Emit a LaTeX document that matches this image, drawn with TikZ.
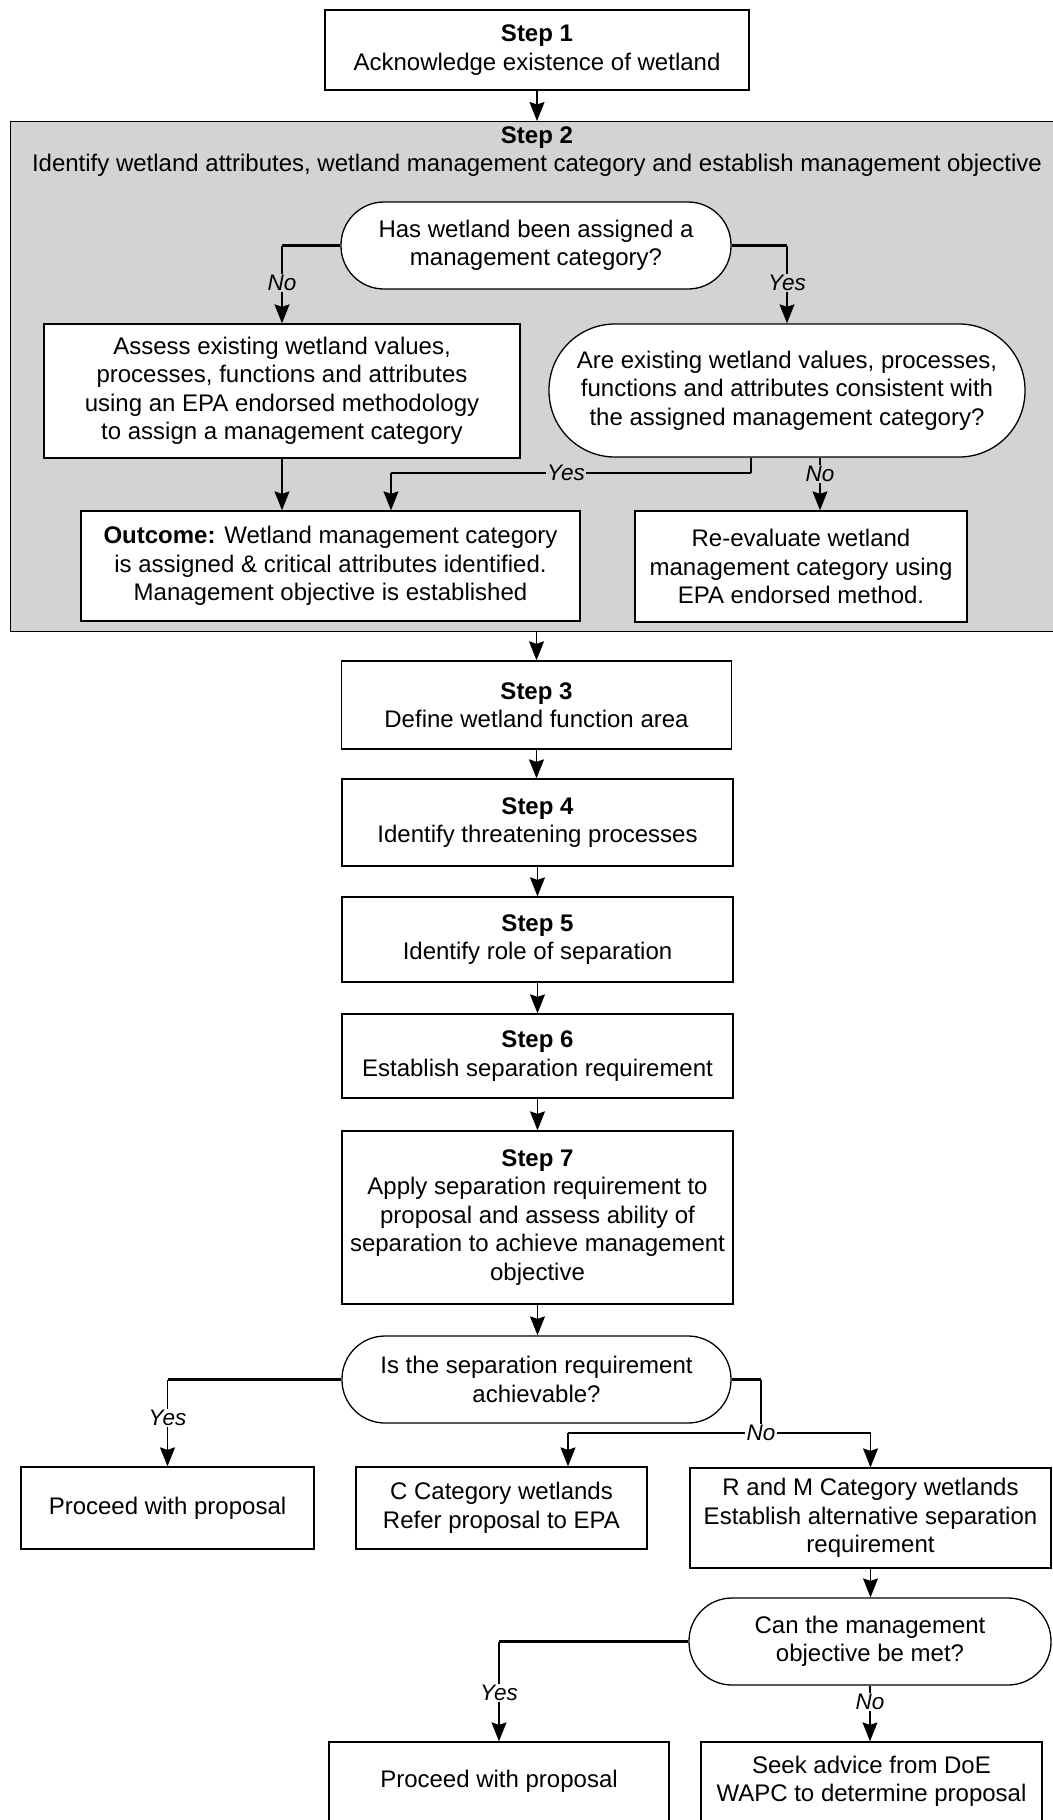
\documentclass[tikz,border=0pt]{standalone}
\usepackage{fontspec}
\setmainfont{Liberation Sans}
\usetikzlibrary{arrows.meta}
\definecolor{panel}{RGB}{209,211,212}
\begin{document}
\begin{tikzpicture}[x=1pt,y=-1pt,
  txt/.style={font=\fontsize{24}{28.5}\selectfont, align=center},
  box/.style={txt, draw=black, fill=white, line width=1.3pt, inner sep=0pt},
  dec/.style={box},
  lab/.style={font=\fontsize{22.5}{26}\selectfont\itshape, inner sep=1.5pt},
  arr/.style={line width=1.2pt, -{Stealth[length=19pt,width=15pt,inset=2.5pt]}},
  thn/.style={line width=1.2pt},
  thk/.style={line width=2.6pt}]
\useasboundingbox (0,0) rectangle (1052,1820);

% Step 1
\node[box, minimum width=424pt, minimum height=80pt] (s1) at (537,50) {\bfseries Step 1\\Acknowledge existence of wetland};

% Step 2 panel
\node[draw=black, fill=panel, line width=1.4pt, minimum width=1046pt, minimum height=510pt, anchor=north west, inner sep=0pt] (s2) at (10,121) {};
\node[txt] (s2t) at (537,151.5) {\bfseries Step 2\\Identify wetland attributes, wetland management category and establish management objective};

\node[dec, rounded corners=43pt, minimum width=390pt, minimum height=87pt] (d1) at (536,245.5) {Has wetland been assigned a\\management category?};
\node[box, minimum width=476pt, minimum height=134pt] (a1) at (282,391) {Assess existing wetland values,\\processes, functions and attributes\\using an EPA endorsed methodology\\to assign a management category};
\node[dec, rounded corners=66pt, minimum width=476pt, minimum height=133pt] (d2) at (787,390.5) {Are existing wetland values, processes,\\functions and attributes consistent with\\the assigned management category?};
\node[box, minimum width=499pt, minimum height=110pt] (o1) at (330.5,566) {{\bfseries Outcome:} Wetland management category\\is assigned \& critical attributes identified.\\Management objective is established};
\node[box, minimum width=332pt, minimum height=111pt] (r1) at (801,566.5) {Re-evaluate wetland\\management category using\\EPA endorsed method.};

% Steps 3-7
\node[box, minimum width=390pt, minimum height=88pt] (s3) at (536.5,705) {\bfseries Step 3\\Define wetland function area};
\node[box, minimum width=391pt, minimum height=87pt] (s4) at (537.5,822.5) {\bfseries Step 4\\Identify threatening processes};
\node[box, minimum width=391pt, minimum height=85pt] (s5) at (537.5,939.5) {\bfseries Step 5\\Identify role of separation};
\node[box, minimum width=391pt, minimum height=84pt] (s6) at (537.5,1056) {\bfseries Step 6\\Establish separation requirement};
\node[box, minimum width=391pt, minimum height=173pt] (s7) at (537.5,1217.5) {\bfseries Step 7\\Apply separation requirement to\\proposal and assess ability of\\separation to achieve management\\objective};

\node[dec, rounded corners=43pt, minimum width=389pt, minimum height=87pt] (d3) at (536.5,1379.5) {Is the separation requirement\\achievable?};
\node[box, minimum width=293pt, minimum height=82pt] (p1) at (167.5,1508) {Proceed with proposal};
\node[box, minimum width=291pt, minimum height=82pt] (c1) at (501.5,1508) {C Category wetlands\\Refer proposal to EPA};
\node[box, minimum width=361pt, minimum height=100pt] (rm) at (870.5,1518) {R and M Category wetlands\\Establish alternative separation\\requirement};
\node[dec, rounded corners=43pt, minimum width=362pt, minimum height=87pt] (d4) at (870,1641.5) {Can the management\\objective be met?};
\node[box, minimum width=340pt, minimum height=79pt] (p2) at (499,1781.5) {Proceed with proposal};
\node[box, minimum width=341pt, minimum height=79pt] (sk) at (871.5,1781.5) {Seek advice from DoE\\WAPC to determine proposal};

% connectors: main spine
\draw[arr] (s1.south) -- (s1.south |- s2.north);
\draw[arr] (s2.south -| s3.north) -- (s3.north);
\draw[arr] (s3.south) -- (s3.south |- s4.north);
\draw[arr] (s4.south) -- (s4.south |- s5.north);
\draw[arr] (s5.south) -- (s5.south |- s6.north);
\draw[arr] (s6.south) -- (s6.south |- s7.north);
\draw[arr] (s7.south) -- (s7.south |- d3.north);

% decision 1
\draw[thk] (d1.west) -- (d1.west -| a1.north);
\draw[arr] (d1.west -| a1.north) -- (a1.north);
\draw[thk] (d1.east) -- (d1.east -| d2.north);
\draw[arr] (d1.east -| d2.north) -- (d2.north);
\node[lab, fill=panel] (l1) at (282,283) {No};
\node[lab, fill=panel] (l2) at (787,283) {Yes};

% assess -> outcome
\draw[arr] (a1.south) -- (a1.south |- o1.north);

% decision 2
\coordinate (y2a) at (751,473);
\coordinate (y2b) at (391,473);
\draw[thn] ([xshift=-36pt]d2.south) -- (y2a);
\draw[thk] (y2a) -- (y2b);
\draw[arr] (y2b) -- (y2b |- o1.north);
\draw[arr] ([xshift=33pt]d2.south) -- ([xshift=33pt]d2.south |- r1.north);
\node[lab, fill=panel] (l3) at (566,473) {Yes};
\node[lab, fill=panel] (l4) at (820,474) {No};

% decision 3
\draw[thk] (d3.west) -- (d3.west -| p1.north);
\draw[arr] (d3.west -| p1.north) -- (p1.north);
\node[lab, fill=white] (l5) at (167.5,1418) {Yes};
\coordinate (k3) at (761,1379.5);
\coordinate (k4) at (761,1433);
\coordinate (n1) at (568,1433);
\coordinate (n2) at (870.5,1433);
\draw[thk] (d3.east) -- (k3);
\draw[thn] (k3) -- (k4);
\draw[thk] (n1) -- (n2);
\draw[arr] (n1) -- (n1 |- c1.north);
\draw[arr] (n2) -- (rm.north);
\node[lab, fill=white] (l6) at (761,1433) {No};

% R&M -> decision 4
\draw[arr] (rm.south) -- (rm.south |- d4.north);

% decision 4
\draw[thk] (d4.west) -- (d4.west -| p2.north);
\draw[arr] (d4.west -| p2.north) -- (p2.north);
\node[lab, fill=white] (l7) at (499,1693) {Yes};
\draw[arr] (d4.south) -- (d4.south |- sk.north);
\node[lab, fill=white] (l8) at (870,1702) {No};
\end{tikzpicture}
\end{document}
